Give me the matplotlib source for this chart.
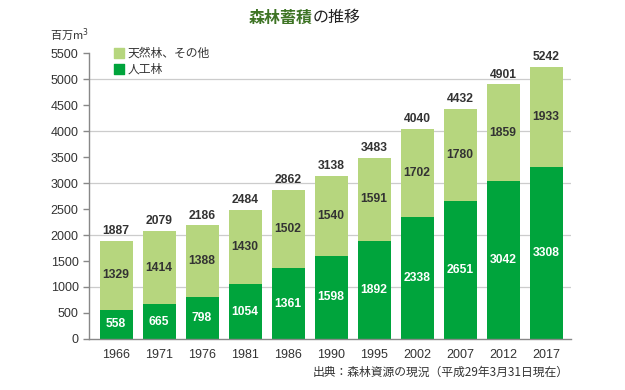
import matplotlib
matplotlib.use('Agg')
import matplotlib.pyplot as plt

plt.rcParams['font.family'] = ['Noto Sans CJK JP', 'DejaVu Sans']
num_font = ['Liberation Sans', 'DejaVu Sans']

# Data
years = ['1966', '1971', '1976', '1981', '1986', '1990', '1995', '2002', '2007', '2012', '2017']
planted = [558, 665, 798, 1054, 1361, 1598, 1892, 2338, 2651, 3042, 3308]
natural = [1329, 1414, 1388, 1430, 1502, 1540, 1591, 1702, 1780, 1859, 1933]
totals = [1887, 2079, 2186, 2484, 2862, 3138, 3483, 4040, 4432, 4901, 5242]

dark_green = '#00a43c'
light_green = '#b6d67e'
text_col = '#333333'
axis_col = '#888888'

fig = plt.figure(figsize=(6.25, 3.9), dpi=100)
ax = fig.add_axes([0.1424, 0.1308, 0.7712, 0.7332])

x = list(range(len(years)))
w = 0.77
ax.bar(x, planted, width=w, color=dark_green, zorder=2)
ax.bar(x, natural, width=w, bottom=planted, color=light_green, zorder=2)

for i in x:
    ax.text(i, planted[i] / 2, str(planted[i]), ha='center', va='center', family=num_font,
            color='white', fontsize=8.7, fontweight='bold', zorder=3)
    ax.text(i, planted[i] + natural[i] / 2, str(natural[i]), ha='center', va='center', family=num_font,
            color=text_col, fontsize=8.7, fontweight='bold', zorder=3)
    ax.text(i, planted[i] + natural[i] + 70, str(totals[i]), ha='center', va='bottom', family=num_font,
            color=text_col, fontsize=8.7, fontweight='bold', zorder=3)

ax.set_xlim(-0.63, 10.58)
ax.set_ylim(0, 5500)
ax.set_yticks(range(0, 5501, 500))
ax.set_xticks(x)
ax.set_xticklabels(years)
ax.tick_params(axis='y', colors=axis_col, labelcolor=text_col, labelsize=9, length=4, width=1)
ax.tick_params(axis='x', length=0, labelcolor=text_col, labelsize=9, pad=7)
for lab in ax.get_xticklabels() + ax.get_yticklabels():
    lab.set_family(num_font)

for s in ['top', 'right']:
    ax.spines[s].set_visible(False)
ax.spines['left'].set_color(axis_col)
ax.spines['bottom'].set_color(axis_col)
ax.spines['left'].set_linewidth(1)
ax.spines['bottom'].set_linewidth(1)

for yv in range(1000, 5001, 1000):
    ax.axhline(yv, color='#cccccc', linewidth=0.9, zorder=1)

# legend
ax.scatter([0.06], [5500], marker='s', s=60, color=light_green, zorder=3, clip_on=False)
ax.scatter([0.06], [5200], marker='s', s=60, color=dark_green, zorder=3, clip_on=False)
ax.text(0.27, 5500, '天然林、その他', va='center', ha='left', fontsize=8.5, color=text_col)
ax.text(0.27, 5200, '人工林', va='center', ha='left', fontsize=8.5, color=text_col)

# title
fig.text(0.5, 0.955, '森林蓄積', ha='right', va='center', fontsize=11.5, fontweight='bold', color='#3e7425')
fig.text(0.5, 0.955, 'の推移', ha='left', va='center', fontsize=11.5, color='#222222')

# unit
fig.text(0.08, 0.912, '百万m$^3$', ha='left', va='center', fontsize=8, color=text_col)

# source
fig.text(0.91, 0.045, '出典：森林資源の現況（平成29年3月31日現在）', ha='right', va='center',
         fontsize=8.5, color=text_col)

fig.savefig('out.png', dpi=100)
